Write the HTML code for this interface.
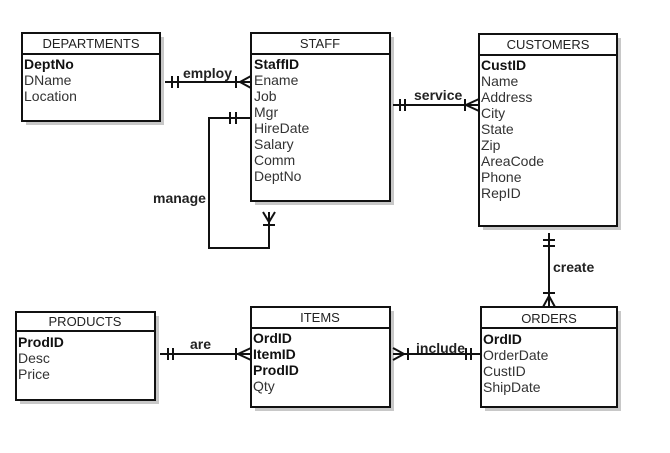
<!DOCTYPE html>
<html><head><style>
body{margin:0;background:#fff;width:670px;height:448px;overflow:hidden}
svg text{font-family:"Liberation Sans",Arial,sans-serif;fill:#333}
.h{font-size:13px;text-anchor:middle;fill:#222}
.a{font-size:14px}
.b{font-size:14px;font-weight:bold;fill:#111}
.l{font-size:14px;font-weight:bold;fill:#222}
</style></head><body>
<svg width="670" height="448" xmlns="http://www.w3.org/2000/svg">
<g fill="#c8c8c8">
<rect x="26" y="37" width="138" height="88"/>
<rect x="255" y="37" width="139" height="168"/>
<rect x="483" y="38" width="138" height="192"/>
<rect x="20" y="316" width="139" height="88"/>
<rect x="255" y="311" width="139" height="100"/>
<rect x="485" y="311" width="136" height="100"/>
</g>
<g fill="#fff" stroke="#111" stroke-width="2">
<rect x="22" y="33" width="138" height="88"/>
<rect x="251" y="33" width="139" height="168"/>
<rect x="479" y="34" width="138" height="192"/>
<rect x="16" y="312" width="139" height="88"/>
<rect x="251" y="307" width="139" height="100"/>
<rect x="481" y="307" width="136" height="100"/>
<line x1="22" y1="54" x2="160" y2="54"/>
<line x1="251" y1="54" x2="390" y2="54"/>
<line x1="479" y1="55" x2="617" y2="55"/>
<line x1="16" y1="331" x2="155" y2="331"/>
<line x1="251" y1="328" x2="390" y2="328"/>
<line x1="481" y1="328" x2="617" y2="328"/>
</g>
<text class="h" x="91" y="48">DEPARTMENTS</text>
<text class="b" x="24" y="69">DeptNo</text>
<text class="a" x="24" y="85">DName</text>
<text class="a" x="24" y="101">Location</text>

<text class="h" x="320" y="48">STAFF</text>
<text class="b" x="254" y="69">StaffID</text>
<text class="a" x="254" y="85">Ename</text>
<text class="a" x="254" y="101">Job</text>
<text class="a" x="254" y="117">Mgr</text>
<text class="a" x="254" y="133">HireDate</text>
<text class="a" x="254" y="149">Salary</text>
<text class="a" x="254" y="165">Comm</text>
<text class="a" x="254" y="181">DeptNo</text>

<text class="h" x="548" y="49">CUSTOMERS</text>
<text class="b" x="481" y="70">CustID</text>
<text class="a" x="481" y="86">Name</text>
<text class="a" x="481" y="102">Address</text>
<text class="a" x="481" y="118">City</text>
<text class="a" x="481" y="134">State</text>
<text class="a" x="481" y="150">Zip</text>
<text class="a" x="481" y="166">AreaCode</text>
<text class="a" x="481" y="182">Phone</text>
<text class="a" x="481" y="198">RepID</text>

<text class="h" x="85" y="326">PRODUCTS</text>
<text class="b" x="18" y="347">ProdID</text>
<text class="a" x="18" y="363">Desc</text>
<text class="a" x="18" y="379">Price</text>

<text class="h" x="320" y="322">ITEMS</text>
<text class="b" x="253" y="343">OrdID</text>
<text class="b" x="253" y="359">ItemID</text>
<text class="b" x="253" y="375">ProdID</text>
<text class="a" x="253" y="391">Qty</text>

<text class="h" x="549" y="323">ORDERS</text>
<text class="b" x="483" y="344">OrdID</text>
<text class="a" x="483" y="360">OrderDate</text>
<text class="a" x="483" y="376">CustID</text>
<text class="a" x="483" y="392">ShipDate</text>

<g stroke="#111" stroke-width="2" fill="none">
<line x1="165" y1="82" x2="251" y2="82"/>
<line x1="172" y1="76" x2="172" y2="88"/><line x1="178" y1="76" x2="178" y2="88"/>
<line x1="236" y1="76" x2="236" y2="88"/>
<path d="M251 76 L240 82 L251 88"/>
<path d="M251 118 H209 V248 H269 V212"/>
<line x1="230" y1="112" x2="230" y2="124"/><line x1="236" y1="112" x2="236" y2="124"/>
<path d="M263 212 L269 222 L275 212"/>
<line x1="263" y1="225" x2="275" y2="225"/>
<line x1="393" y1="105" x2="479" y2="105"/>
<line x1="400" y1="99" x2="400" y2="111"/><line x1="405" y1="99" x2="405" y2="111"/>
<path d="M479 99 L466 105 L479 111"/>
<line x1="465" y1="99" x2="465" y2="111"/>
<line x1="549" y1="233" x2="549" y2="307"/>
<line x1="543" y1="240" x2="555" y2="240"/><line x1="543" y1="246" x2="555" y2="246"/>
<path d="M543 307 L549 296 L555 307"/>
<line x1="543" y1="293" x2="555" y2="293"/>
<line x1="160" y1="354" x2="251" y2="354"/>
<line x1="168" y1="348" x2="168" y2="360"/><line x1="173" y1="348" x2="173" y2="360"/>
<path d="M251 348 L238 354 L251 360"/>
<line x1="236" y1="348" x2="236" y2="360"/>
<line x1="393" y1="354" x2="481" y2="354"/>
<path d="M393 348 L404 354 L393 360"/>
<line x1="408" y1="348" x2="408" y2="360"/>
<line x1="466" y1="348" x2="466" y2="360"/><line x1="471" y1="348" x2="471" y2="360"/>
</g>
<text class="l" x="183" y="78">employ</text>
<text class="l" x="153" y="203">manage</text>
<text class="l" x="414" y="100">service</text>
<text class="l" x="553" y="272">create</text>
<text class="l" x="190" y="349">are</text>
<text class="l" x="416" y="353">include</text>
</svg>
</body></html>
